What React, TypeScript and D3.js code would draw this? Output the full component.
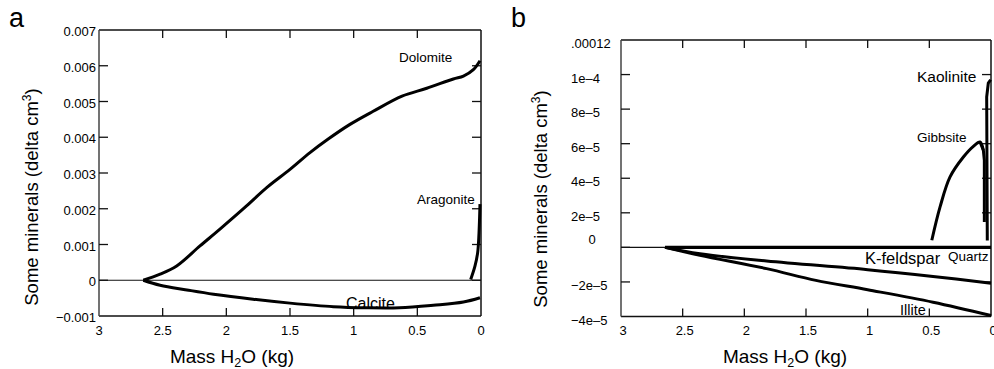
import * as d3 from 'd3';

// panel a: mass of water (kg) vs delta cm3
const xTicks = [3, 2.5, 2, 1.5, 1, 0.5, 0];
const aYTicks = [-0.001, 0, 0.001, 0.002, 0.003, 0.004, 0.005, 0.006, 0.007];
const aYLabels = ['\u22120.001', '0', '0.001', '0.002', '0.003', '0.004', '0.005', '0.006', '0.007'];

const dolomiteX = [2.652, 2.52, 2.39, 2.207, 2.05, 1.85, 1.683, 1.5, 1.343, 1.2, 1.029, 0.85, 0.62, 0.426, 0.217, 0.138, 0.06, 0.008];
const dolomiteY = [0, 0.00017, 0.0004, 0.00096, 0.00143, 0.00205, 0.00259, 0.0031, 0.00357, 0.00395, 0.00436, 0.00472, 0.00515, 0.00537, 0.00563, 0.00571, 0.00589, 0.00614];

const calciteX = [2.652, 2.52, 2.31, 2.1, 1.79, 1.5, 1.16, 0.9, 0.64, 0.375, 0.138, 0.008];
const calciteY = [0, -0.00014, -0.00027, -0.00039, -0.00053, -0.00064, -0.00074, -0.00077, -0.00077, -0.0007, -0.00061, -0.00049];

const aragoniteX = [0.081, 0.047, 0.026, 0.016, 0.008];
const aragoniteY = [0.00002, 0.0004, 0.00078, 0.0013, 0.00213];

// panel b
const bYTicks = [-4e-5, -2e-5, 0, 2e-5, 4e-5, 6e-5, 8e-5, 1e-4, 1.2e-4];
const bYLabels = ['\u22124e\u20135', '\u22122e\u20135', '0', '2e\u20135', '4e\u20135', '6e\u20135', '8e\u20135', '1e\u20134', '.00012'];

const quartzX = [2.643, 0];
const quartzY = [0, 0];

const kfeldsparX = [2.643, 2.36, 1.82, 1.0, 0.47, 0];
const kfeldsparY = [0, -3.7e-6, -7.9e-6, -1.29e-5, -1.68e-5, -2.07e-5];

const illiteX = [2.643, 2.36, 1.82, 1.42, 1.0, 0.47, 0];
const illiteY = [0, -4.6e-6, -1.23e-5, -1.91e-5, -2.45e-5, -3.17e-5, -3.94e-5];

const gibbsiteX = [0.48, 0.413, 0.332, 0.224, 0.143, 0.089, 0.062, 0.054, 0.054];
const gibbsiteY = [4.1e-6, 2.34e-5, 4.08e-5, 5.23e-5, 5.85e-5, 6.1e-5, 5.62e-5, 5.04e-5, 1.47e-5];

const kaoliniteX = [0.03, 0.035, 0.022, 0.003];
const kaoliniteY = [4e-6, 8.7e-5, 9.5e-5, 9.7e-5];

const FONT = '"Liberation Sans", Arial, sans-serif';

const zip = (xs: number[], ys: number[]) => xs.map((x, i) => [x, ys[i]] as [number, number]);

function Frame({ x, y, left, right, top, bottom, yTicks }: any) {
  return (
    <g stroke="#111" fill="none">
      <line x1={left} x2={right} y1={top} y2={top} strokeWidth={1.5} />
      <line x1={left} x2={right} y1={bottom} y2={bottom} strokeWidth={1.5} />
      <line x1={left} x2={left} y1={top} y2={bottom} strokeWidth={1.5} stroke="#444" />
      <line x1={right} x2={right} y1={top} y2={bottom} strokeWidth={1.5} />
      {xTicks.slice(1, -1).map((t) => (
        <g key={t}>
          <line x1={x(t)} x2={x(t)} y1={top} y2={top + 8} strokeWidth={1.3} />
          <line x1={x(t)} x2={x(t)} y1={bottom} y2={bottom - 8} strokeWidth={1.3} />
        </g>
      ))}
      {yTicks.slice(1, -1).map((t: number) => (
        <g key={t}>
          <line x1={left} x2={left + 9} y1={y(t)} y2={y(t)} strokeWidth={1.3} />
          <line x1={right} x2={right - 9} y1={y(t)} y2={y(t)} strokeWidth={1.3} />
        </g>
      ))}
      <line x1={left} x2={right} y1={y(0)} y2={y(0)} strokeWidth={1.2} />
    </g>
  );
}

export default function App() {
  // panel a scales
  const ax = d3.scaleLinear().domain([3, 0]).range([99, 481]);
  const ay = d3.scaleLinear().domain([-0.001, 0.007]).range([316, 30]);
  // panel b scales
  const bx = d3.scaleLinear().domain([3, 0]).range([621, 991]);
  const by = d3.scaleLinear().domain([-4e-5, 1.2e-4]).range([316.5, 40]);

  const aLine = d3.line<[number, number]>().x((d) => ax(d[0])).y((d) => ay(d[1])).curve(d3.curveCatmullRom.alpha(0.5));
  const bLine = d3.line<[number, number]>().x((d) => bx(d[0])).y((d) => by(d[1])).curve(d3.curveCatmullRom.alpha(0.5));
  const bLinear = d3.line<[number, number]>().x((d) => bx(d[0])).y((d) => by(d[1]));

  const curve = { fill: 'none', stroke: '#000', strokeWidth: 3, strokeLinejoin: 'round' as const };

  return (
    <svg width={994} height={369} style={{ position: 'absolute', left: 0, top: 0, background: '#fff' }} fontFamily={FONT}>
      {/* panel a */}
      <text x={9} y={27} fontSize={27}>a</text>
      <Frame x={ax} y={ay} left={99} right={481} top={30} bottom={316} yTicks={aYTicks} />
      {aYTicks.map((t, i) => (
        <text key={t} x={96} y={ay(t) + 6} fontSize={13} textAnchor="end">{aYLabels[i]}</text>
      ))}
      {xTicks.map((t) => (
        <text key={t} x={ax(t)} y={335} fontSize={13} textAnchor="middle">{t}</text>
      ))}
      <path d={aLine(zip(dolomiteX, dolomiteY))!} {...curve} />
      <path d={aLine(zip(calciteX, calciteY))!} {...curve} />
      <path d={aLine(zip(aragoniteX, aragoniteY))!} {...curve} />
      <text x={399} y={62} fontSize={13.5}>Dolomite</text>
      <text x={417} y={204} fontSize={13.5}>Aragonite</text>
      <text x={346} y={309} fontSize={16}>Calcite</text>
      <text x={38} y={197} fontSize={18.5} textAnchor="middle" transform="rotate(-90 38 197)">
        Some minerals (delta cm<tspan fontSize={12} dy={-7}>3</tspan><tspan dy={7}>)</tspan>
      </text>
      <text x={232} y={363} fontSize={19} textAnchor="middle">
        Mass H<tspan fontSize={12.5} dy={4}>2</tspan><tspan dy={-4}>O (kg)</tspan>
      </text>

      {/* panel b */}
      <text x={511} y={27} fontSize={27}>b</text>
      <Frame x={bx} y={by} left={621} right={991} top={40} bottom={316.5} yTicks={bYTicks} />
      {bYTicks.map((t, i) =>
        t === 0 ? (
          <text key={t} x={592} y={by(t) - 3} fontSize={13} textAnchor="middle">{bYLabels[i]}</text>
        ) : (
          <text key={t} x={571} y={by(t) + 8} fontSize={13}>{bYLabels[i]}</text>
        )
      )}
      {xTicks.map((t) => (
        <text key={t} x={bx(t) + 2} y={335} fontSize={13} textAnchor="middle">{t}</text>
      ))}
      <path d={bLinear(zip(quartzX, quartzY))!} {...curve} strokeWidth={3.2} />
      <path d={bLine(zip(kfeldsparX, kfeldsparY))!} {...curve} />
      <path d={bLine(zip(illiteX, illiteY))!} {...curve} />
      <path d={bLine(zip(gibbsiteX.slice(0, 7), gibbsiteY.slice(0, 7)))!} {...curve} />
      <path d={bLinear(zip(gibbsiteX.slice(5), gibbsiteY.slice(5)))!} {...curve} />
      <path d={bLinear(zip(kaoliniteX, kaoliniteY))!} {...curve} />
      <text x={917} y={82} fontSize={15.5}>Kaolinite</text>
      <text x={917} y={142} fontSize={13.5}>Gibbsite</text>
      <text x={865} y={264} fontSize={16.5}>K-feldspar</text>
      <text x={948} y={261} fontSize={13.5}>Quartz</text>
      <text x={900} y={315} fontSize={14.5}>Illite</text>
      <text x={547} y={199} fontSize={18.5} textAnchor="middle" transform="rotate(-90 547 199)">
        Some minerals (delta cm<tspan fontSize={12} dy={-7}>3</tspan><tspan dy={7}>)</tspan>
      </text>
      <text x={785} y={363} fontSize={19} textAnchor="middle">
        Mass H<tspan fontSize={12.5} dy={4}>2</tspan><tspan dy={-4}>O (kg)</tspan>
      </text>
    </svg>
  );
}
